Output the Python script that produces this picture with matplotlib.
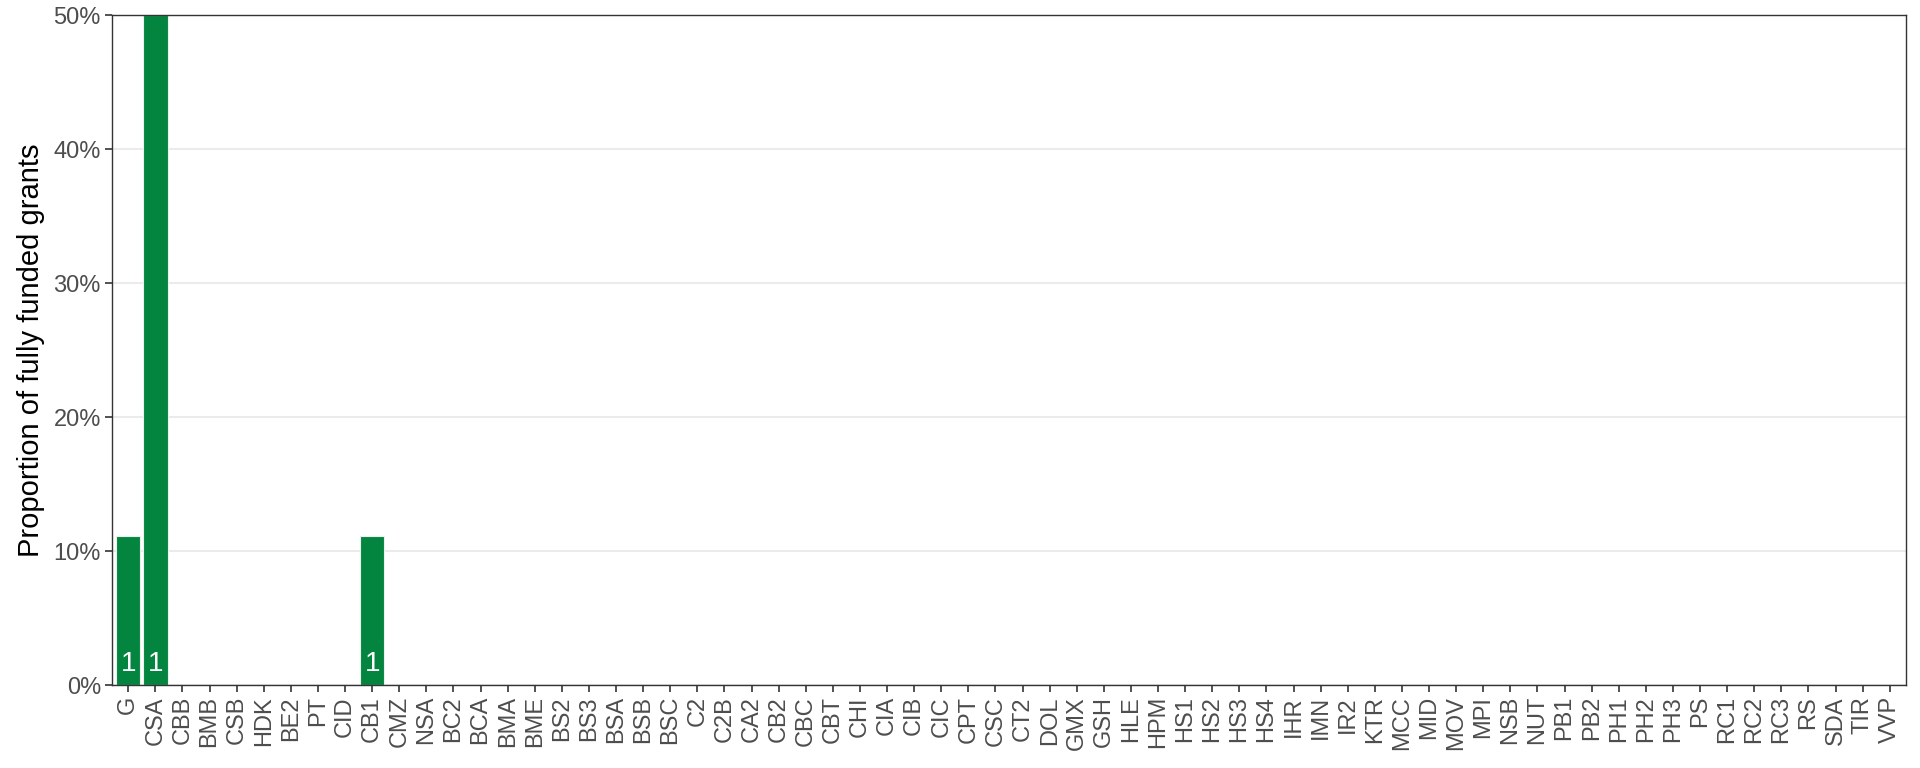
import numpy as np
import matplotlib
matplotlib.use('Agg')
import matplotlib.pyplot as plt
from matplotlib.ticker import PercentFormatter

categories = ['G', 'CSA', 'CBB', 'BMB', 'CSB', 'HDK', 'BE2', 'PT', 'CID', 'CB1',
              'CMZ', 'NSA', 'BC2', 'BCA', 'BMA', 'BME', 'BS2', 'BS3', 'BSA', 'BSB',
              'BSC', 'C2', 'C2B', 'CA2', 'CB2', 'CBC', 'CBT', 'CHI', 'CIA', 'CIB',
              'CIC', 'CPT', 'CSC', 'CT2', 'DOL', 'GMX', 'GSH', 'HLE', 'HPM', 'HS1',
              'HS2', 'HS3', 'HS4', 'IHR', 'IMN', 'IR2', 'KTR', 'MCC', 'MID', 'MOV',
              'MPI', 'NSB', 'NUT', 'PB1', 'PB2', 'PH1', 'PH2', 'PH3', 'PS', 'RC1',
              'RC2', 'RC3', 'RS', 'SDA', 'TIR', 'VVP']

# proportion of fully funded grants and count of funded grants
proportion = {'G': 1 / 9, 'CSA': 0.5, 'CB1': 1 / 9}
counts = {'G': 1, 'CSA': 1, 'CB1': 1}

values = [proportion.get(c, 0) for c in categories]
labels = [counts.get(c, 0) for c in categories]

plt.rcParams['font.family'] = ['Liberation Sans', 'DejaVu Sans']

fig = plt.figure(figsize=(19.2, 7.68), dpi=100)
ax = fig.add_axes([112 / 1920, 1 - 685 / 768, (1906 - 112) / 1920, (685 - 15) / 768])

x = np.arange(len(categories))
bars = ax.bar(x, values, width=0.9, color='#03843f', edgecolor='#e8f3ec',
              linewidth=0.8, zorder=2)

for xi, v, n in zip(x, values, labels):
    if n > 0:
        ax.text(xi, 0.006, str(n), ha='center', va='bottom', color='white',
                fontsize=20, zorder=3)

ax.set_xlim(-0.6, len(categories) - 0.4)
ax.set_ylim(0, 0.5)
ax.set_yticks(np.arange(0, 0.51, 0.1))
ax.yaxis.set_major_formatter(PercentFormatter(1.0, decimals=0))
ax.set_xticks(x)
ax.set_xticklabels(categories, rotation=90)

ax.grid(axis='y', color='#ebebeb', linewidth=1.5, zorder=0)
ax.set_axisbelow(True)
for s in ax.spines.values():
    s.set_color('#333333')
    s.set_linewidth(1.0)

ax.tick_params(axis='both', colors='#333333', labelcolor='#4d4d4d',
               labelsize=17, length=5, width=1.2, pad=3)
ax.set_ylabel('Proportion of fully funded grants', fontsize=21, color='black',
              labelpad=6)

fig.savefig('out.png', dpi=100)
